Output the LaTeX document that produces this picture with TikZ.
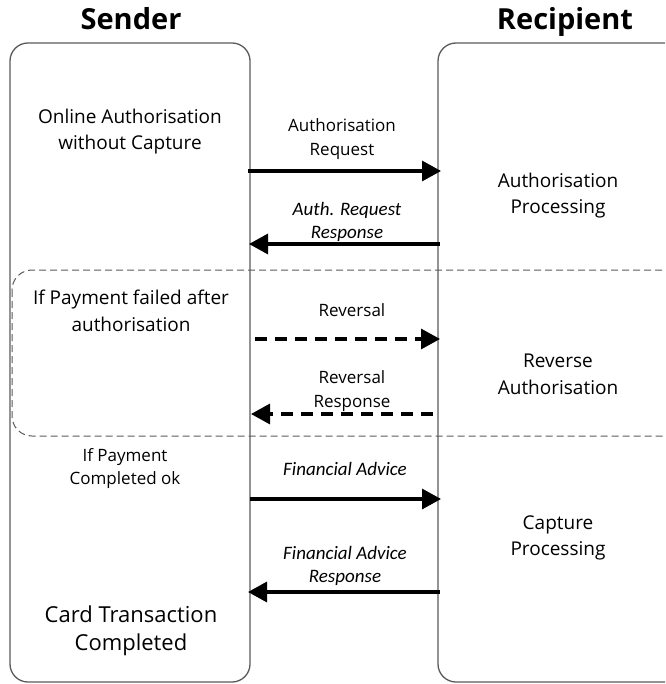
\documentclass[tikz,border=0pt]{standalone}
\usepackage{fontspec}
\setmainfont{Open Sans}
\newfontfamily\italfont{Carlito}
\usetikzlibrary{arrows.meta}
\definecolor{laneline}{HTML}{5A5A5A}
\tikzset{
  lane/.style={draw=laneline, line width=1.3pt, rounded corners=18pt},
  region/.style={draw=laneline, line width=1pt, dash pattern=on 7pt off 4pt, rounded corners=20pt},
  msg/.style={line width=3.3pt, -{Triangle[length=19pt,width=20pt]}},
  msgdash/.style={msg, dash pattern=on 12pt off 8pt},
  title/.style={font=\fontsize{29}{32}\selectfont\bfseries, anchor=base},
  note/.style={font=\fontsize{19}{26}\selectfont, align=center, anchor=center},
  bignote/.style={font=\fontsize{22}{28}\selectfont, align=center, anchor=center},
  smallnote/.style={font=\fontsize{17}{23}\selectfont, align=center, anchor=center},
  lbl/.style={font=\fontsize{17}{23.5}\selectfont, align=center, anchor=center},
  lbli/.style={font=\italfont\itshape\fontsize{19}{23}\selectfont, align=center, anchor=center}
}
\begin{document}
\begin{tikzpicture}[x=1pt,y=-1pt]
\useasboundingbox (0,0) rectangle (665,684);
\clip (0,0) rectangle (665,684);

% swimlanes
\draw[lane] (10,43) rectangle (250,682);
\draw[lane] (438,43) rectangle (700,682);
\node (sender) [title] at (131,30) {Sender};
\node (recipient) [title] at (565,30) {Recipient};

% failure branch region
\draw[region] (12,270) rectangle (700,436);

% sender side steps
\node (online) [note] at (130,132) {Online Authorisation\\without Capture};
\node (failed) [note, font=\fontsize{19}{27}\selectfont] at (131,311) {If Payment failed after\\authorisation};
\node (okpay) [smallnote] at (125,469) {If Payment\\Completed ok};
\node (done) [bignote] at (131,631) {Card Transaction\\Completed};

% recipient side steps
\node (authproc) [note] at (558,196) {Authorisation\\Processing};
\node (revauth) [note, font=\fontsize{19}{27}\selectfont] at (558,374) {Reverse\\Authorisation};
\node (capture) [note] at (558,538) {Capture\\Processing};

% message end points on the lane borders
\coordinate (s1) at (248,171);  \coordinate (r1) at (441,171);
\coordinate (r2) at (440,244);  \coordinate (s2) at (249,244);
\coordinate (s3) at (255,339);  \coordinate (r3) at (440,339);
\coordinate (r4) at (433,414);  \coordinate (s4) at (251,414);
\coordinate (s5) at (250,499);  \coordinate (r5) at (441,499);
\coordinate (r6) at (440,592);  \coordinate (s6) at (248,592);

% messages
\draw[msg] (s1) -- (r1);
\draw[msg] (r2) -- (s2);
\draw[msgdash] (s3) -- (r3);
\draw[msgdash] (r4) -- (s4);
\draw[msg] (s5) -- (r5);
\draw[msg] (r6) -- (s6);

% message labels
\node (l1) [lbl] at (342,139) {Authorisation\\Request};
\node (l2) [lbli] at (347,222) {Auth. Request\\Response};
\node (l3) [lbl] at (352,310) {Reversal};
\node (l4) [lbl] at (352,391) {Reversal\\Response};
\node (l5) [lbli] at (345,469) {Financial Advice};
\node (l6) [lbli] at (345,566) {Financial Advice\\Response};
\end{tikzpicture}
\end{document}
